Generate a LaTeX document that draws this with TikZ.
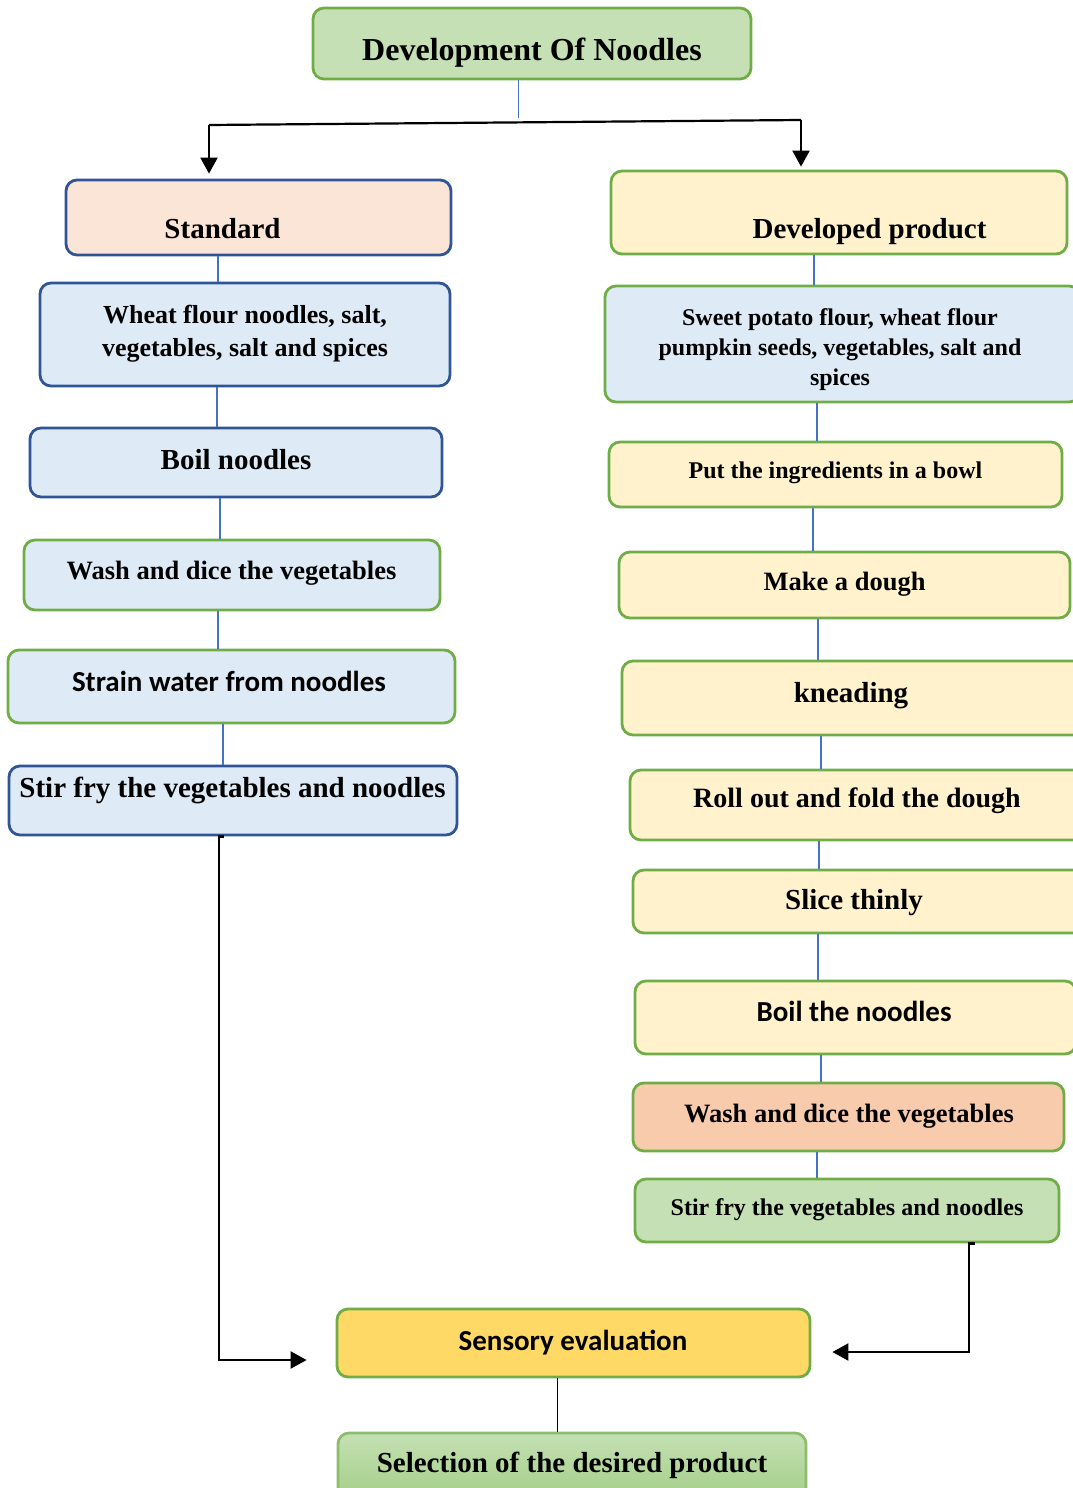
\documentclass[tikz,border=0pt]{standalone}
\usepackage{fontspec}
\setmainfont{Liberation Serif}
\newfontfamily\carl{Carlito}
\usetikzlibrary{arrows.meta}
\definecolor{grnfill}{HTML}{C5E0B4}
\definecolor{grn}{HTML}{70AD47}
\definecolor{dblue}{HTML}{2F5597}
\definecolor{lblue}{HTML}{4472C4}
\definecolor{peach}{HTML}{FBE5D6}
\definecolor{yel}{HTML}{FFF2CC}
\definecolor{bluefill}{HTML}{DEEBF7}
\definecolor{orng}{HTML}{F8CBAD}
\definecolor{gold}{HTML}{FFD966}
\definecolor{selbot}{HTML}{A3CE87}
\tikzset{
  box/.style={rounded corners=11pt, line width=2.8pt, inner sep=0pt},
  gbox/.style={box, draw=grn},
  bbox/.style={box, draw=dblue},
  lbl/.style={inner sep=0pt, anchor=base},
  mlbl/.style={inner sep=0pt, anchor=center, align=center},
  conn/.style={draw=lblue, line width=2.2pt},
  blk/.style={draw=black, line width=2.2pt},
  arr/.style={blk, -{Triangle[width=17pt 0 0,length=16pt 0 0]}},
}
\newcommand{\sz}[1]{\fontsize{#1}{#1}\selectfont\bfseries}
\begin{document}
\begin{tikzpicture}[x=1pt,y=-1pt]
\useasboundingbox (0,0) rectangle (1073,1488);
% boxes
\node[gbox, fill=grnfill, minimum width=438, minimum height=71] (top) at (532,43.5) {};
\node[bbox, fill=peach, minimum width=385, minimum height=75] (std) at (258.5,217.5) {};
\node[gbox, fill=yel, minimum width=456, minimum height=83] (dev) at (839,212.5) {};
\node[bbox, fill=bluefill, minimum width=410, minimum height=103] (wf) at (245,334.5) {};
\node[bbox, fill=bluefill, minimum width=412, minimum height=69] (bn) at (236,462.5) {};
\node[gbox, fill=bluefill, minimum width=416, minimum height=70] (wd) at (232,575) {};
\node[gbox, fill=bluefill, minimum width=447, minimum height=73] (sw) at (231.5,686.5) {};
\node[bbox, fill=bluefill, minimum width=448, minimum height=69] (sf) at (233,800.5) {};
\node[gbox, fill=bluefill, minimum width=475, minimum height=116] (sp) at (842.5,344) {};
\node[gbox, fill=yel, minimum width=453, minimum height=65] (put) at (835.5,474.5) {};
\node[gbox, fill=yel, minimum width=451, minimum height=66] (mk) at (844.5,585) {};
\node[gbox, fill=yel, minimum width=463, minimum height=74] (kn) at (853.5,698) {};
\node[gbox, fill=yel, minimum width=455, minimum height=70] (ro) at (857.5,805) {};
\node[gbox, fill=yel, minimum width=452, minimum height=63] (sl) at (859,901.5) {};
\node[gbox, fill=yel, minimum width=441, minimum height=73] (bt) at (855.5,1017.5) {};
\node[gbox, fill=orng, minimum width=431, minimum height=68] (wr) at (848.5,1117) {};
\node[gbox, fill=grnfill, minimum width=424, minimum height=63] (sr) at (847,1210.5) {};
\node[gbox, fill=gold, minimum width=473, minimum height=68] (se) at (573.5,1343) {};
\node[gbox, draw=grn!80, top color=grnfill, bottom color=selbot, minimum width=468, minimum height=67] (sel) at (572,1466.5) {};
% texts
\node[lbl, font=\sz{32}] (top-t) at (532,61) {Development Of Noodles};
\node[lbl, font=\sz{29}] (std-t) at (222.5,238.5) {Standard};
\node[lbl, font=\sz{29}] (dev-t) at (869.5,238.5) {Developed product};
\node[mlbl, font=\fontsize{26}{33}\selectfont\bfseries] (wf-t) at (245,334) {Wheat flour noodles, salt,\\vegetables, salt and spices};
\node[lbl, font=\sz{29}] (bn-t) at (236,469.5) {Boil noodles};
\node[lbl, font=\sz{26.5}] (wd-t) at (231.5,579) {Wash and dice the vegetables};
\node[lbl, font=\carl\sz{29}] (sw-t) at (229,691) {Strain water from noodles};
\node[lbl, font=\sz{29}] (sf-t) at (232.5,797) {Stir fry the vegetables and noodles};
\node[mlbl, font=\fontsize{24}{30}\selectfont\bfseries] (sp-t) at (840,349.5) {Sweet potato flour, wheat flour\\pumpkin seeds, vegetables, salt and\\spices};
\node[lbl, font=\sz{24}] (put-t) at (835.5,478) {Put the ingredients in a bowl};
\node[lbl, font=\sz{26.5}] (mk-t) at (844.5,590) {Make a dough};
\node[lbl, font=\sz{29}] (kn-t) at (851,702) {kneading};
\node[lbl, font=\sz{28}] (ro-t) at (857,807) {Roll out and fold the dough};
\node[lbl, font=\sz{29}] (sl-t) at (854,909) {Slice thinly};
\node[lbl, font=\carl\sz{29}] (bt-t) at (854,1021.5) {Boil the noodles};
\node[lbl, font=\sz{26.5}] (wr-t) at (849,1122) {Wash and dice the vegetables};
\node[lbl, font=\sz{24}] (sr-t) at (847,1215) {Stir fry the vegetables and noodles};
\node[lbl, font=\carl\sz{29}] (se-t) at (573,1350) {Sensory evaluation};
\node[lbl, font=\sz{29}] (sel-t) at (572,1472) {Selection of the desired product};
% x references for connectors
\coordinate (xa) at (218,0);
\coordinate (xb) at (217,0);
\coordinate (xc) at (220,0);
\coordinate (xd) at (218,0);
\coordinate (xe) at (223,0);
\coordinate (ya) at (814,0);
\coordinate (yb) at (817,0);
\coordinate (yc) at (813,0);
\coordinate (yd) at (818,0);
\coordinate (ye) at (821,0);
\coordinate (yf) at (819,0);
\coordinate (yg) at (818,0);
\coordinate (yh) at (821,0);
\coordinate (yi) at (817,0);
% blue connectors left
\draw[conn] (std.south -| xa) -- (wf.north -| xa);
\draw[conn] (wf.south -| xb) -- (bn.north -| xb);
\draw[conn] (bn.south -| xc) -- (wd.north -| xc);
\draw[conn] (wd.south -| xd) -- (sw.north -| xd);
\draw[conn] (sw.south -| xe) -- (sf.north -| xe);
% blue connectors right
\draw[conn] (dev.south -| ya) -- (sp.north -| ya);
\draw[conn] (sp.south -| yb) -- (put.north -| yb);
\draw[conn] (put.south -| yc) -- (mk.north -| yc);
\draw[conn] (mk.south -| yd) -- (kn.north -| yd);
\draw[conn] (kn.south -| ye) -- (ro.north -| ye);
\draw[conn] (ro.south -| yf) -- (sl.north -| yf);
\draw[conn] (sl.south -| yg) -- (bt.north -| yg);
\draw[conn] (bt.south -| yh) -- (wr.north -| yh);
\draw[conn] (wr.south -| yi) -- (sr.north -| yi);
% top split
\coordinate (tj) at (518,118);
\coordinate (bl) at (209,125);
\coordinate (br) at (801,120);
\draw[draw=lblue, line width=1pt] (top.south -| tj) -- (tj);
\draw[blk] (bl) -- (br);
\draw[arr, shorten >=5pt] (bl) -- (std.north -| bl);
\draw[arr, shorten >=3pt] (br) -- (dev.north -| br);
% returns to sensory evaluation
\coordinate (lr) at (219,1360);
\draw[arr, shorten >=29pt] (sf.south -| lr) ++(5,0) -- ++(-5,0) -- (lr) -- (se.west |- lr);
\coordinate (rr) at (969,1352);
\draw[arr, shorten >=21pt] (sr.south -| rr) ++(6,0) -- ++(-6,0) -- (rr) -- (se.east |- rr);
% sensory to selection
\coordinate (ss) at (557,0);
\draw[draw=black, line width=1pt] (se.south -| ss) -- (sel.north -| ss);
\end{tikzpicture}
\end{document}
